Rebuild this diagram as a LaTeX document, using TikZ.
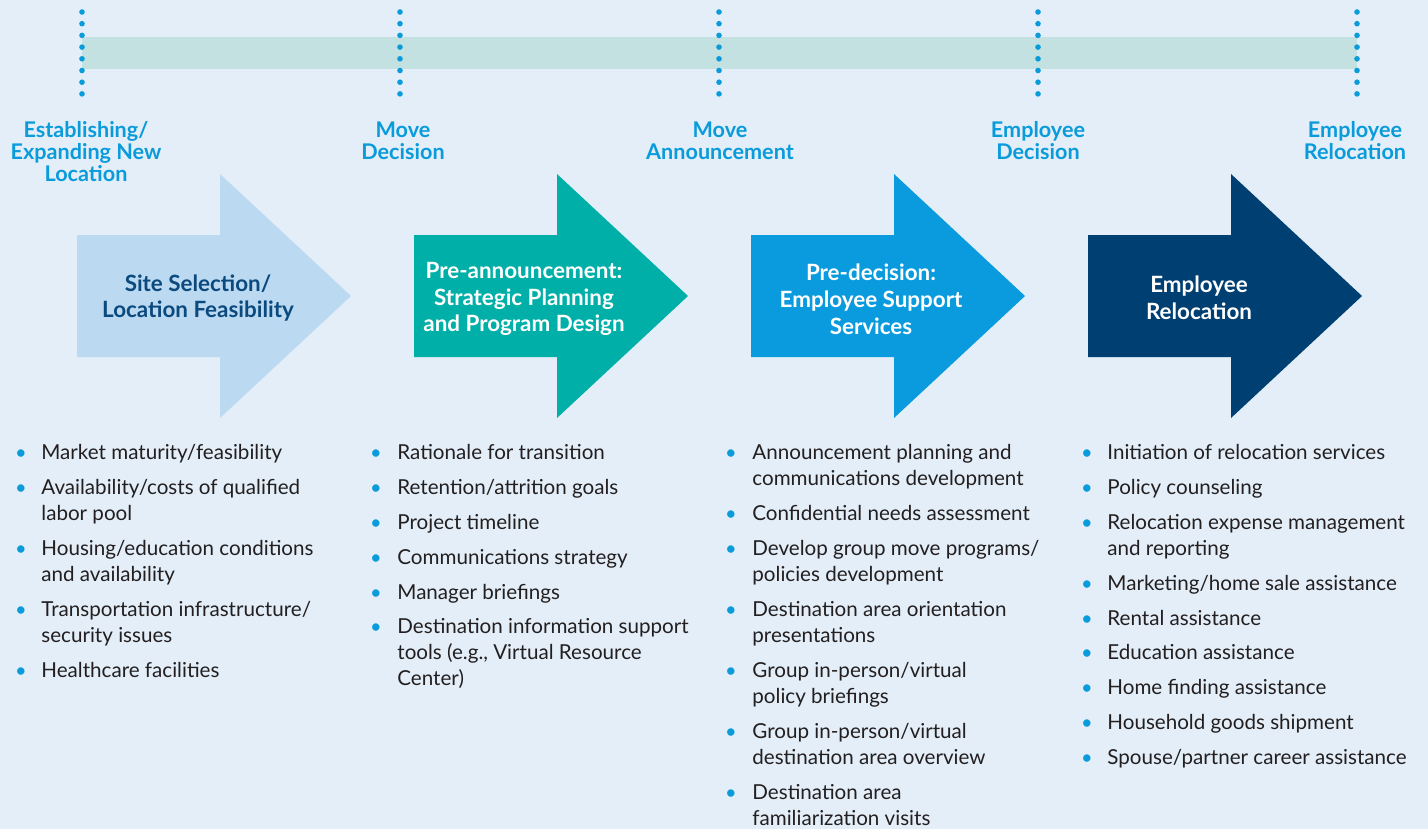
\documentclass[tikz,border=0pt]{standalone}
\usepackage{fontspec}
\setmainfont{Lato}
\definecolor{pagebg}{HTML}{E3EEF8}
\definecolor{barteal}{HTML}{C3E1E0}
\definecolor{cyanblue}{HTML}{0A9BDB}
\definecolor{arrowpale}{HTML}{BBD9F1}
\definecolor{arrowteal}{HTML}{00AFA8}
\definecolor{arrowblue}{HTML}{0A9BDE}
\definecolor{arrownavy}{HTML}{003F72}
\definecolor{textnavy}{HTML}{0B4A7E}
\definecolor{bodytext}{HTML}{231F20}
\tikzset{
	milestone/.style={font=\bfseries\fontsize{10.8}{11}\selectfont, text=cyanblue, align=center, anchor=base, inner sep=0pt},
	phase/.style={font=\bfseries\fontsize{11.2}{13.4}\selectfont, align=center, inner sep=0pt},
	item/.style={font=\fontsize{10.3}{13}\selectfont, text=bodytext, align=left, anchor=base west, inner sep=0pt},
	dot/.style={font=\fontsize{10}{13}\selectfont, text=cyanblue, anchor=base, inner sep=0pt}
}
\begin{document}
\begin{tikzpicture}[x=0.5pt,y=-0.5pt]
	\useasboundingbox (0,0) rectangle (1428,829);
	\fill[pagebg] (0,0) rectangle (1428,829);
	% timeline
	\fill[barteal] (82,37) rectangle (1357,69);
	\foreach \x in {82,400,719,1038,1357}{
		\foreach \y in {12,23.7,...,96}
			\fill[cyanblue] (\x,\y) circle (2.8);
	}
	\node[milestone] (msa) at (86,181) {Establishing/\\Expanding New\\Location};
	\node[milestone] (msb) at (403,159) {Move\\Decision};
	\node[milestone] (msc) at (720,159) {Move\\Announcement};
	\node[milestone] (msd) at (1038,159) {Employee\\Decision};
	\node[milestone] (mse) at (1355,159) {Employee\\Relocation};
	% phase arrows
	\foreach \x/\c in {77/arrowpale,414/arrowteal,751/arrowblue,1088/arrownavy}
		\fill[\c] (\x,235)--(\x+143,235)--(\x+143,174)--(\x+274,296)--(\x+143,418)--(\x+143,357)--(\x,357)--cycle;
	\node[phase,text=textnavy] (pha) at (198,298) {Site Selection/\\Location Feasibility};
	\node[phase,text=white] (phb) at (524,299) {Pre-announcement:\\Strategic Planning\\and Program Design};
	\node[phase,text=white] (phc) at (871,299) {Pre-decision:\\Employee Support\\Services};
	\node[phase,text=white] (phd) at (1199,298) {Employee\\Relocation};
	% lists
	\foreach \b/\y/\t [count=\i] in {
		459/459/{Market maturity/feasibility},
		494/520/{Availability/costs of qualified\\labor pool},
		555/581/{Housing/education conditions\\and availability},
		616/642/{Transportation infrastructure/\\security issues},
		677/677/{Healthcare facilities}}{
		\node[dot] (bula\i) at (21,\b) {•};
		\node[item] (ita\i) at (41,\y) {\t};
	}
	\foreach \b/\y/\t [count=\i] in {
		459/459/{Rationale for transition},
		494/494/{Retention/attrition goals},
		529/529/{Project timeline},
		564/564/{Communications strategy},
		599/599/{Manager briefings},
		633/685/{Destination information support\\tools (e.g., Virtual Resource\\Center)}}{
		\node[dot] (bulb\i) at (376,\b) {•};
		\node[item] (itb\i) at (397,\y) {\t};
	}
	\foreach \b/\y/\t [count=\i] in {
		459/485/{Announcement planning and\\communications development},
		520/520/{Confidential needs assessment},
		555/581/{Develop group move programs/\\policies development},
		616/642/{Destination area orientation\\presentations},
		677/703/{Group in-person/virtual\\policy briefings},
		738/764/{Group in-person/virtual\\destination area overview},
		799/825/{Destination area\\familiarization visits}}{
		\node[dot] (bulc\i) at (731,\b) {•};
		\node[item] (itc\i) at (752,\y) {\t};
	}
	\foreach \b/\y/\t [count=\i] in {
		459/459/{Initiation of relocation services},
		494/494/{Policy counseling},
		529/555/{Relocation expense management\\and reporting},
		590/590/{Marketing/home sale assistance},
		625/625/{Rental assistance},
		659/659/{Education assistance},
		694/694/{Home finding assistance},
		729/729/{Household goods shipment},
		764/764/{Spouse/partner career assistance}}{
		\node[dot] (buld\i) at (1087,\b) {•};
		\node[item] (itd\i) at (1107,\y) {\t};
	}
\end{tikzpicture}
\end{document}
